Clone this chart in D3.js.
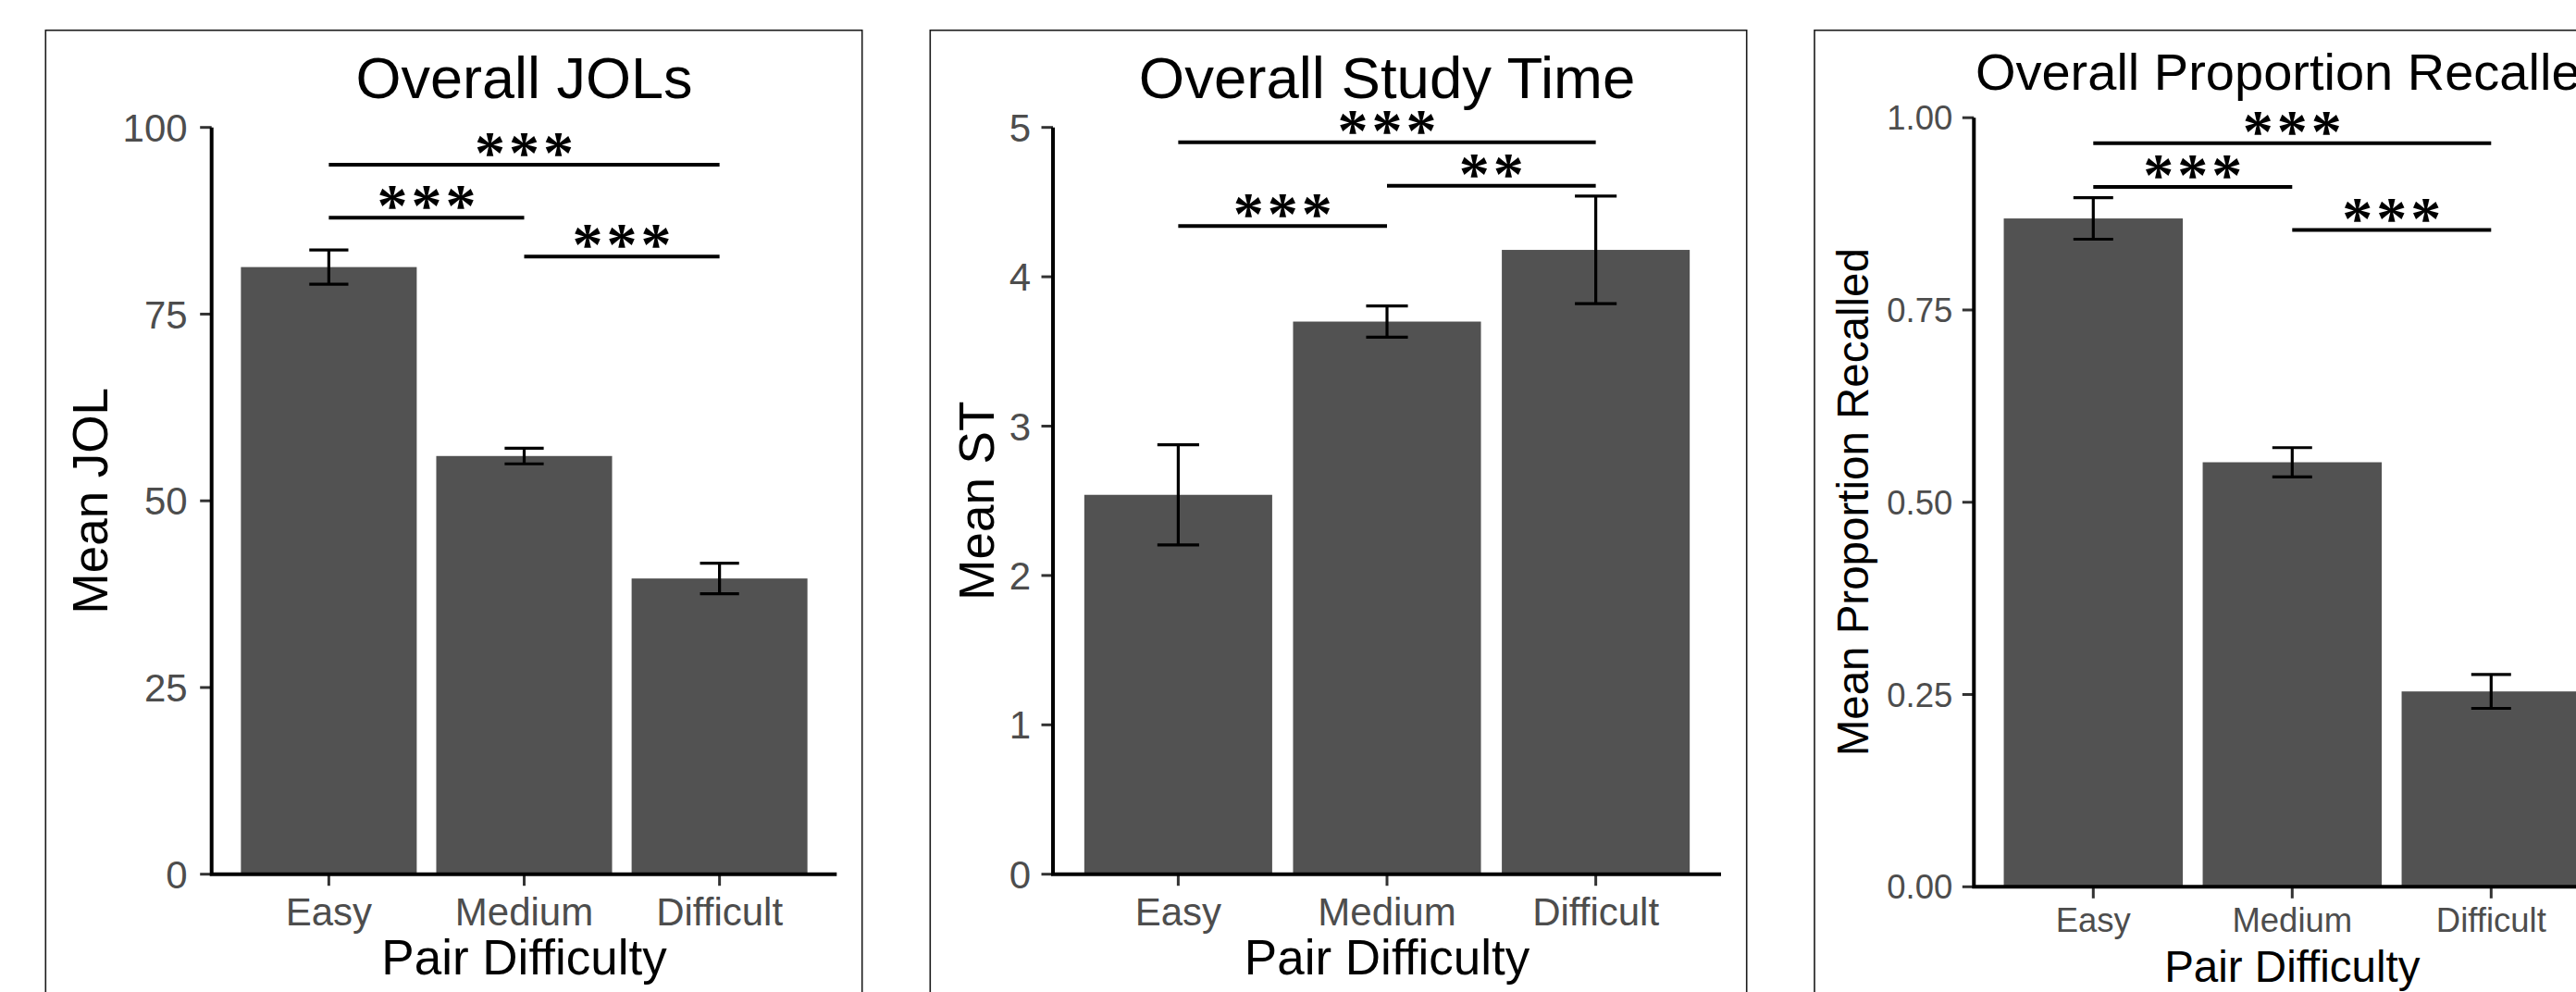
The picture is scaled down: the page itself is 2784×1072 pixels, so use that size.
<!DOCTYPE html>
<html>
<head>
<meta charset="utf-8">
<script src="https://cdn.jsdelivr.net/npm/d3@7"></script>
<style>
  body { margin: 0; background: #fff; }
  svg { display: block; }
  text { font-family: "Liberation Sans", Arial, sans-serif; }
</style>
</head>
<body>
<svg id="chart" width="2784" height="1072"></svg>
<script>
// data
const categories = ["Easy", "Medium", "Difficult"];

const jolMeans = [81.3, 56.0, 39.6];
const jolErrors = [2.3, 1.05, 2.05];
const jolTicks = [0, 25, 50, 75, 100];
const jolSigPairs = [[0, 2], [0, 1], [1, 2]];
const jolSigY = [95.0, 87.9, 82.7];
const jolSigLabels = ["***", "***", "***"];

const stMeans = [2.54, 3.70, 4.18];
const stErrors = [0.335, 0.105, 0.36];
const stTicks = [0, 1, 2, 3, 4, 5];
const stSigPairs = [[0, 2], [1, 2], [0, 1]];
const stSigY = [4.90, 4.61, 4.34];
const stSigLabels = ["***", "**", "***"];

const recMeans = [0.869, 0.552, 0.254];
const recErrors = [0.027, 0.019, 0.022];
const recTicks = [0, 0.25, 0.5, 0.75, 1.0];
const recSigPairs = [[0, 2], [0, 1], [1, 2]];
const recSigY = [0.967, 0.910, 0.854];
const recSigLabels = ["***", "***", "***"];

// layout for each of the three ggplot panels
const panels = [
  {
    title: "Overall JOLs", yTitle: "Mean JOL",
    means: jolMeans, errors: jolErrors, ticks: jolTicks, yMax: 100, fmt: d3.format("d"),
    sigPairs: jolSigPairs, sigY: jolSigY, sigLabels: jolSigLabels,
    frameX: 49.3, frameW: 882.4, x0: 228.7, x1: 904.3, yBottom: 944.7, yTop: 137.7,
    titleSize: 63, titleY: 106, tickSize: 42, tickGap: 26, xLabelDy: 55, axisTitleSize: 53,
    xTitleDy: 108, yTitleX: 116
  },
  {
    title: "Overall Study Time", yTitle: "Mean ST",
    means: stMeans, errors: stErrors, ticks: stTicks, yMax: 5, fmt: d3.format("d"),
    sigPairs: stSigPairs, sigY: stSigY, sigLabels: stSigLabels,
    frameX: 1005.3, frameW: 882.4, x0: 1138, x1: 1860, yBottom: 944.7, yTop: 137.7,
    titleSize: 63.5, titleY: 106, tickSize: 42, tickGap: 24, xLabelDy: 55, axisTitleSize: 53,
    xTitleDy: 108, yTitleX: 1074
  },
  {
    title: "Overall Proportion Recalled", yTitle: "Mean Proportion Recalled",
    means: recMeans, errors: recErrors, ticks: recTicks, yMax: 1, fmt: d3.format(".2f"),
    sigPairs: recSigPairs, sigY: recSigY, sigLabels: recSigLabels,
    frameX: 1961, frameW: 882.4, x0: 2133.3, x1: 2821.3, yBottom: 958.3, yTop: 127.2,
    titleSize: 56, titleY: 97, tickSize: 36.5, tickGap: 23, xLabelDy: 49, axisTitleSize: 47.5,
    xTitleDy: 103, yTitleX: 2019
  }
];

const svg = d3.select("#chart");
const starSpacing = 4;

panels.forEach(p => {
  const g = svg.append("g");

  // panel border (runs off the bottom of the image)
  g.append("rect")
    .attr("x", p.frameX).attr("y", 32.7)
    .attr("width", p.frameW).attr("height", 1200)
    .attr("fill", "none").attr("stroke", "#1a1a1a").attr("stroke-width", 1.6);

  const x = d3.scaleBand().domain(categories).range([p.x0, p.x1])
    .paddingInner(0.1).paddingOuter(0.15);
  const y = d3.scaleLinear().domain([0, p.yMax]).range([p.yBottom, p.yTop]);
  const step = x.step();
  const cx = i => x(categories[i]) + x.bandwidth() / 2;

  // bars
  g.selectAll(".bar").data(p.means).join("rect")
    .attr("x", (d, i) => x(categories[i]))
    .attr("y", d => y(d))
    .attr("width", x.bandwidth())
    .attr("height", d => y(0) - y(d))
    .attr("fill", "#525252");

  // error bars
  const capW = step * 0.2;
  p.means.forEach((m, i) => {
    const lo = y(m - p.errors[i]), hi = y(m + p.errors[i]);
    const eb = g.append("g").attr("stroke", "#000").attr("stroke-width", 3.2).attr("fill", "none");
    eb.append("line").attr("x1", cx(i)).attr("x2", cx(i)).attr("y1", lo).attr("y2", hi);
    eb.append("line").attr("x1", cx(i) - capW / 2).attr("x2", cx(i) + capW / 2).attr("y1", lo).attr("y2", lo);
    eb.append("line").attr("x1", cx(i) - capW / 2).attr("x2", cx(i) + capW / 2).attr("y1", hi).attr("y2", hi);
  });

  // y axis: ticks + labels
  p.ticks.forEach(t => {
    g.append("line")
      .attr("x1", p.x0 - 12.5).attr("x2", p.x0)
      .attr("y1", y(t)).attr("y2", y(t))
      .attr("stroke", "#333").attr("stroke-width", 3);
    g.append("text")
      .attr("x", p.x0 - p.tickGap).attr("y", y(t)).attr("dy", "0.36em")
      .attr("text-anchor", "end").attr("font-size", p.tickSize).attr("fill", "#4d4d4d")
      .text(p.fmt(t));
  });

  // x axis: ticks + labels
  categories.forEach((c, i) => {
    g.append("line")
      .attr("x1", cx(i)).attr("x2", cx(i))
      .attr("y1", p.yBottom).attr("y2", p.yBottom + 12.5)
      .attr("stroke", "#333").attr("stroke-width", 3);
    g.append("text")
      .attr("x", cx(i)).attr("y", p.yBottom + p.xLabelDy)
      .attr("text-anchor", "middle").attr("font-size", p.tickSize).attr("fill", "#4d4d4d")
      .text(c);
  });

  // axis lines
  g.append("path")
    .attr("d", `M${p.x0},${p.yTop}V${p.yBottom}H${p.x1}`)
    .attr("fill", "none").attr("stroke", "#000").attr("stroke-width", 4)
    .attr("stroke-linejoin", "miter");

  // significance brackets
  p.sigPairs.forEach((pair, k) => {
    const yy = y(p.sigY[k]);
    g.append("line")
      .attr("x1", cx(pair[0])).attr("x2", cx(pair[1]))
      .attr("y1", yy).attr("y2", yy)
      .attr("stroke", "#000").attr("stroke-width", 4);
    g.append("text")
      .attr("x", (cx(pair[0]) + cx(pair[1])) / 2 + starSpacing / 2).attr("y", yy + 9)
      .attr("text-anchor", "middle")
      .style("font-family", "'Liberation Serif', 'Times New Roman', serif")
      .style("letter-spacing", starSpacing + "px")
      .attr("font-weight", "bold")
      .attr("font-size", 66).attr("fill", "#000")
      .text(p.sigLabels[k]);
  });

  // titles
  const mid = (p.x0 + p.x1) / 2;
  g.append("text")
    .attr("x", mid).attr("y", p.titleY)
    .attr("text-anchor", "middle").attr("font-size", p.titleSize).attr("fill", "#000")
    .text(p.title);
  g.append("text")
    .attr("x", mid).attr("y", p.yBottom + p.xTitleDy)
    .attr("text-anchor", "middle").attr("font-size", p.axisTitleSize).attr("fill", "#000")
    .text("Pair Difficulty");
  g.append("text")
    .attr("transform", `translate(${p.yTitleX},${(p.yTop + p.yBottom) / 2}) rotate(-90)`)
    .attr("text-anchor", "middle").attr("font-size", p.axisTitleSize).attr("fill", "#000")
    .text(p.yTitle);
});
</script>
</body>
</html>
